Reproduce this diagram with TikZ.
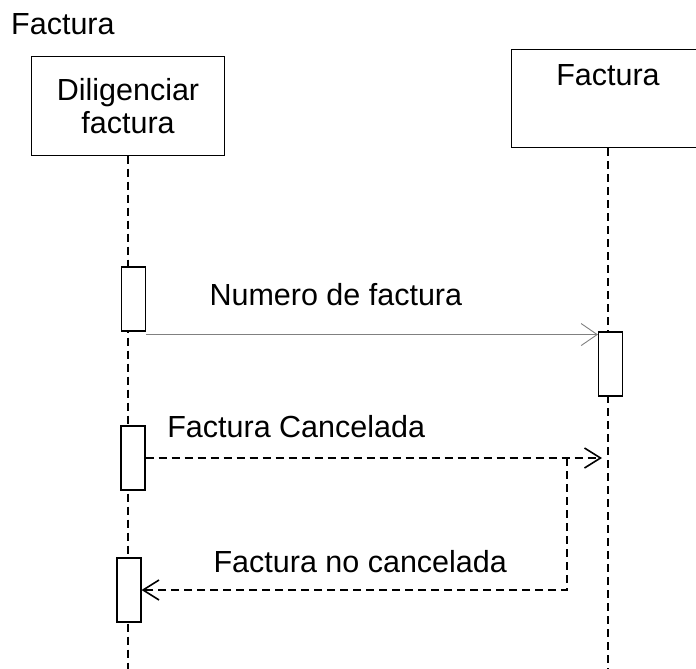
\documentclass[tikz,border=0pt]{standalone}
\usepackage{fontspec}
\setmainfont{Liberation Sans}
\usetikzlibrary{arrows.meta,positioning,calc}
\tikzset{
    obj/.style      = {draw, fill=white, rectangle, minimum width=193pt, minimum height=98pt, align=center, line width=1pt},
    activ/.style    = {draw, fill=white, rectangle, minimum width=24pt, minimum height=64pt, line width=1.1pt},
    lifeline/.style = {dash pattern=on 8pt off 5pt, line width=1.8pt},
    msg/.style      = {draw=gray, line width=0.9pt, -{Straight Barb[length=16pt,width=22pt,line width=0.9pt]}},
    reply/.style    = {dash pattern=on 8pt off 5pt, line width=1.6pt, -{Straight Barb[length=16pt,width=20pt,line width=1.6pt]}},
    tmp/.style      = {coordinate}
}

\begin{document}
\begin{tikzpicture}[x=1pt, y=-1pt, font=\fontsize{30.5}{33}\selectfont]
    \useasboundingbox (0,0) rectangle (696,669);
    \node [anchor=base west, inner sep=0pt]        (titulo)     at (11,35)    {Factura};
    \node [obj]                                    (dilig_box)  at (128,106)  {Diligenciar\\factura};
    \node [obj, anchor=north west]                 (fact_box)   at (511,49)   {};
    \node [below=12pt of fact_box.north]           (fact_lbl)                 {Factura};
    \node [tmp]                                    (bottom)     at (130,669)  {};

    % lineas de vida
    \draw [lifeline] (dilig_box.south) -- (dilig_box.south |- bottom);
    \draw [lifeline] (fact_box.south) -- (fact_box.south |- bottom);

    \node [activ]                                  (act1)       at (133.5,299) {};
    \node [activ]                                  (act2)       at (610.5,364) {};
    \node [activ]                                  (act3)       at (133,458)   {};
    \node [activ]                                  (act4)       at (129,590)   {};
    \node [tmp]                                    (msg1_start) at ($(act1.south east)+(0,3)$) {};
    \node [tmp]                                    (msg2_end)   at ($(fact_box.south |- act3.east)+(-6,0)$) {};
    \node [tmp]                                    (ret_top)    at (567,458)   {};

    \draw [msg] (msg1_start) -- node[pos=0.42, above=28pt, inner sep=0pt] {Numero de factura} (msg1_start -| act2.west);
    \draw [reply] (act3.east) -- node[pos=0.33, above=19pt, inner sep=0pt] {Factura Cancelada} (msg2_end);
    \draw [reply] (ret_top) |- node[pos=0.743, above=16pt, inner sep=0pt] {Factura no cancelada} (act4.east);
\end{tikzpicture}
\end{document}
